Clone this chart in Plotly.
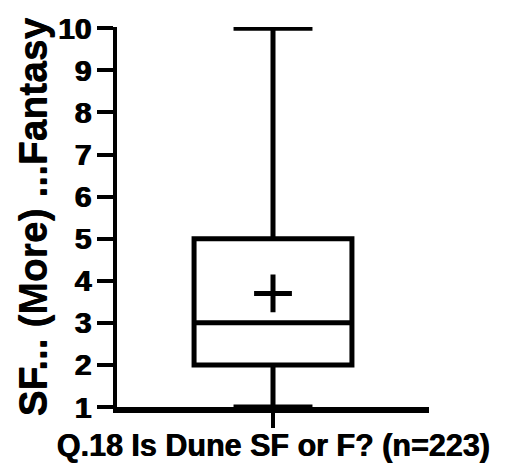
import plotly.graph_objects as go

# Data
category = ["Q.18 Is Dune SF or F? (n=223)"]
q1_vals = [2]
median_vals = [3]
q3_vals = [5]
low_vals = [1]
high_vals = [10]
mean_vals = [3.7]
y_ticks = [1, 2, 3, 4, 5, 6, 7, 8, 9, 10]
y_ticktext = ["<b>%d</b>" % v for v in y_ticks]

FONT = "Liberation Sans, Arial, sans-serif"
SHADOW = "0.8px 0px 0px black"

fig = go.Figure()
fig.add_trace(go.Box(
    x=[0], q1=q1_vals, median=median_vals, q3=q3_vals,
    lowerfence=low_vals, upperfence=high_vals,
    fillcolor="white", line=dict(color="black", width=5),
    whiskerwidth=0.5, width=0.506, boxpoints=False, hoverinfo="skip",
    showlegend=False,
))
fig.add_trace(go.Scatter(
    x=[0], y=mean_vals, mode="markers",
    marker=dict(symbol="cross-thin", size=27, line=dict(color="black", width=5)),
    showlegend=False, cliponaxis=False,
))

fig.update_layout(
    width=517, height=465,
    margin=dict(l=117, r=88, t=24, b=58),
    plot_bgcolor="white", paper_bgcolor="white",
    font=dict(family=FONT, color="black"),
    xaxis=dict(
        range=[-0.5, 0.5], tickvals=[0], showticklabels=False,
        ticks="outside", ticklen=15, tickwidth=4, tickcolor="black",
        showline=True, linewidth=6, linecolor="black", layer="above traces",
        showgrid=False, zeroline=False,
        title=dict(text="<b>" + category[0] + "</b>",
                   font=dict(size=30.5, shadow=SHADOW), standoff=10),
    ),
    yaxis=dict(
        range=[1, 10.03], tickvals=y_ticks, ticktext=y_ticktext,
        ticks="outside", ticklen=16, tickwidth=4, tickcolor="black",
        showline=True, linewidth=4, linecolor="black",
        showgrid=False, zeroline=False,
        tickfont=dict(size=30, shadow="1.2px 0px 0px black"),
        title=dict(text="<b>SF... (More) ...Fantasy</b>",
                   font=dict(size=39, shadow="0px 0.8px 0px black"), standoff=0),
    ),
)

fig.write_html("out.html")
